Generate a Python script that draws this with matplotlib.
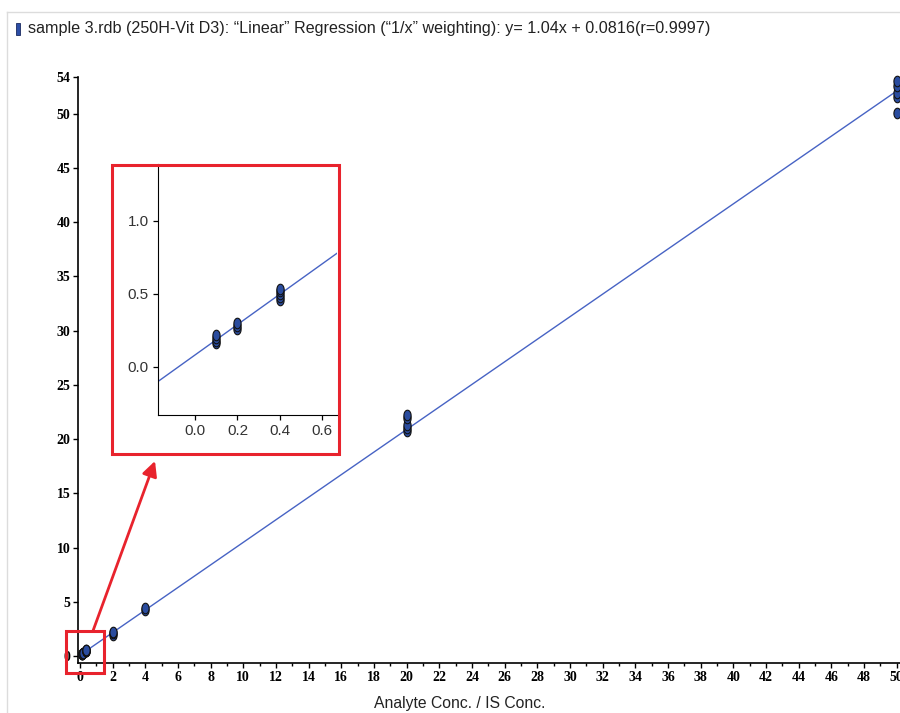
import numpy as np
import matplotlib
matplotlib.use("Agg")
import matplotlib.pyplot as plt
from matplotlib.path import Path
from matplotlib.patches import Rectangle
from matplotlib.lines import Line2D
from matplotlib.ticker import MultipleLocator

# Calibration data: analyte / IS concentration ratio vs. area ratio
conc_x = [0.1, 0.1, 0.1, 0.1,
          0.2, 0.2, 0.2,
          0.4, 0.4, 0.4, 0.4, 0.4,
          2, 2, 2,
          4, 4,
          20, 20, 20, 20, 20,
          50, 50, 50, 50, 50]
area_y = [0.16, 0.18, 0.20, 0.22,
          0.26, 0.28, 0.30,
          0.46, 0.48, 0.50, 0.52, 0.53,
          1.95, 2.1, 2.25,
          4.2, 4.4,
          20.7, 21.0, 21.3, 21.9, 22.2,
          50.1, 51.5, 51.9, 52.5, 53.0]

slope = 1.04
intercept = 0.0816
r_value = 0.9997

main_xticks = list(range(0, 51, 2))
main_yticks = [0, 5, 10, 15, 20, 25, 30, 35, 40, 45, 50]
inset_xticks = [0.0, 0.2, 0.4, 0.6]
inset_yticks = [0.0, 0.5, 1.0]

title = ("sample 3.rdb (250H-Vit D3): \u201cLinear\u201d Regression (\u201c1/x\u201d weighting): "
         f"y= {slope}x + {intercept}(r={r_value})")

W, H = 900, 713
fig = plt.figure(figsize=(W / 100, H / 100), dpi=100)

def fx(px):
    return px / W

def fy(py):
    return 1 - py / H

text_font = ["Liberation Sans", "DejaVu Sans"]
tick_font = ["Liberation Serif", "DejaVu Serif"]

# Light panel frame around the chart area
fig.add_artist(Line2D([fx(7), 1], [fy(12), fy(12)], color="#dcdcdc", lw=1))
fig.add_artist(Line2D([fx(7), fx(7)], [fy(12), 0], color="#dcdcdc", lw=1))

# Series icon + title
fig.add_artist(Rectangle((fx(16), fy(35)), fx(4), 12 / H, facecolor="#2c4ea6",
                         edgecolor="#1a2a60", lw=0.6))
fig.text(fx(28), fy(29), title, fontsize=11.6, family=text_font, color="#222222",
         va="center", ha="left")

# Elliptical marker
theta = np.linspace(0, 2 * np.pi, 60)
ellipse = Path(np.column_stack([0.68 * np.cos(theta), np.sin(theta)]), closed=True)

marker_kw = dict(marker=ellipse, markersize=7.6, markerfacecolor="#2a4c9e",
                 markeredgecolor="#111111", markeredgewidth=0.8, linestyle="none")
line_kw = dict(color="#4763c4", lw=1.0)

# Main calibration plot
ax = fig.add_axes([fx(78), fy(663.3), fx(900 - 78), (663.3 - 76.7) / H])
xmin, xmax = -0.12, 50.2
ymin, ymax = -0.67, 53.4
fit_x = np.array([0.0, 50.0])
ax.plot(fit_x, slope * fit_x + intercept, **line_kw, zorder=2)
ax.plot(conc_x, area_y, **marker_kw, zorder=3, clip_on=False)
ax.set_xlim(xmin, xmax)
ax.set_ylim(ymin, ymax)
for s in ("top", "right"):
    ax.spines[s].set_visible(False)
for s in ("left", "bottom"):
    ax.spines[s].set_linewidth(1.2)
ax.set_xticks(main_xticks)
ax.xaxis.set_minor_locator(MultipleLocator(1))
ax.set_yticks(main_yticks + [ymax])
ax.set_yticklabels([str(v) for v in main_yticks] + ["54"])
ax.tick_params(axis="both", which="major", direction="out", length=3.5, width=1.0,
               labelsize=10, pad=2)
ax.tick_params(axis="x", which="minor", direction="out", length=2, width=1.0)
for lab in ax.get_xticklabels() + ax.get_yticklabels():
    lab.set_family(tick_font)
    lab.set_fontweight("bold")
ax.set_xlabel("Analyte Conc. / IS Conc.", fontsize=11.3, family=text_font,
              color="#222222")
ax.xaxis.set_label_coords((460 - 78) / (900 - 78), -0.055)

# Zoom box around the low calibrators and arrow to the inset
ax.add_patch(Rectangle((-0.86, -1.54), 2.33, 3.87, fill=False, edgecolor="#e8232d",
                       lw=2.2, clip_on=False, zorder=4))
ax.annotate("", xy=(fx(155), fy(461)), xycoords="figure fraction",
            xytext=(0.8, 2.33), textcoords="data",
            arrowprops=dict(arrowstyle="-|>,head_length=0.9,head_width=0.45",
                            color="#e8232d", lw=2.0, shrinkA=0, shrinkB=0))

# Inset with the low-concentration region
ins = fig.add_axes([fx(158), fy(415), fx(337 - 158), (415 - 164) / H])
ix = np.array([-0.175, 0.67])
ins.plot(ix, slope * ix + intercept, **line_kw, zorder=2)
ins.plot(conc_x, area_y, **marker_kw, zorder=3)
ins.set_xlim(-0.175, 0.67)
ins.set_ylim(-0.33, 1.39)
for s in ("top", "right"):
    ins.spines[s].set_visible(False)
ins.set_xticks(inset_xticks)
ins.set_yticks(inset_yticks)
ins.set_xticklabels([f"{v:.1f}" for v in inset_xticks])
ins.set_yticklabels([f"{v:.1f}" for v in inset_yticks])
ins.tick_params(direction="out", length=3.5, width=0.9, labelsize=11,
                labelcolor="#333333", pad=3)
for lab in ins.get_xticklabels() + ins.get_yticklabels():
    lab.set_family(["Liberation Sans", "DejaVu Sans"])

fig.add_artist(Rectangle((fx(112), fy(454)), fx(339 - 112), (454 - 164.5) / H,
                         fill=False, edgecolor="#e8232d", lw=2.2))

fig.savefig("out.png", dpi=100)
